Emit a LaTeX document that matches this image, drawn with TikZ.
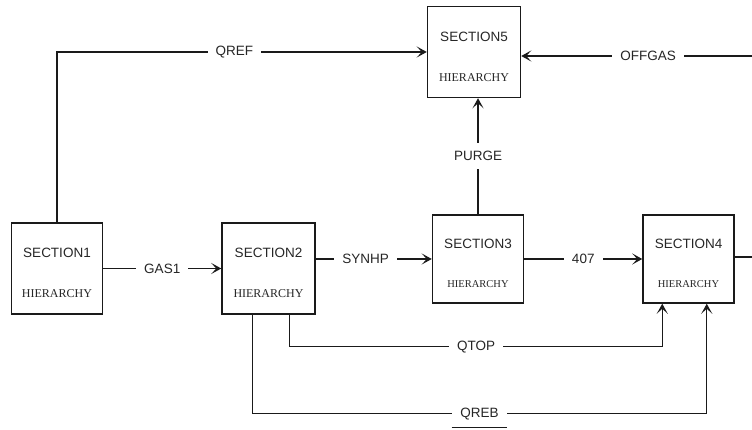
\documentclass[tikz,border=0pt]{standalone}
\usepackage{fontspec}
\setmainfont{Liberation Sans}
\newfontfamily\hierfont{Liberation Serif}
\usetikzlibrary{positioning,arrows.meta}
\definecolor{ink}{HTML}{1A1A1A}
\definecolor{labelgray}{HTML}{262626}
\tikzset{
  secbox/.style={draw=ink, line width=1.5pt, minimum width=91pt, minimum height=91pt, inner sep=0pt},
  sectitle/.style={anchor=center, yshift=-31pt, text=labelgray, font=\fontsize{13.5pt}{16pt}\selectfont},
  hier/.style={anchor=center, yshift=21pt, text=labelgray, font=\hierfont\fontsize{12pt}{14pt}\selectfont},
  section/.style={secbox, label={[sectitle]north:#1}, label={[hier]south:HIERARCHY}},
  sectionsm/.style={secbox, minimum height=88pt, label={[sectitle, yshift=1pt]north:#1},
    label={[hier, yshift=-1pt, font=\hierfont\fontsize{10.5pt}{12pt}\selectfont]south:HIERARCHY}},
  lbl/.style={fill=white, inner xsep=8pt, inner ysep=2pt, text=labelgray, font=\fontsize{13.5pt}{16pt}\selectfont},
  flow/.style={draw=ink, line width=1.3pt, -{Stealth[length=10pt,width=11pt,inset=5pt]}},
  plain/.style={draw=ink, line width=1.3pt}
}
\begin{document}
\begin{tikzpicture}
\useasboundingbox (0,0) rectangle (752pt,430pt);
% the five sections
\node[section=SECTION1] (s1) at (57pt,161.5pt) {};
\node[section=SECTION2, minimum width=93pt] (s2) [right=118pt of s1] {};
\node[sectionsm=SECTION3] (s3) [right=116pt of s2, yshift=9.5pt] {};
\node[sectionsm=SECTION4] (s4) [right=118pt of s3] {};
\node[section=SECTION5, minimum width=93pt] (s5) [above=116pt of s3, xshift=-4pt] {};
% free ends at the right edge
\coordinate (offgas) at (752pt,374pt);
\coordinate (out4) at (752pt,173pt);
% streams
\path (s1) edge[flow] node[lbl] {GAS1} (s2);
\path (s2.east |- s3.west) edge[flow] node[lbl, pos=0.43] {SYNHP} (s3.west);
\path (s3) edge[flow] node[lbl] {407} (s4);
\path (s3.north) edge[flow] node[lbl, inner xsep=2pt, inner ysep=8pt] {PURGE} (s3.north |- s5.south);
\draw[flow] (s1.north) |- node[lbl, pos=0.74] {QREF} (s5.west);
\draw[flow] (offgas) -- node[lbl, pos=0.45] {OFFGAS} (offgas -| s5.east);
\draw[plain] (s4.east |- out4) -- (out4);
\draw[flow] ([xshift=-26pt]s2.south east) -- ++(0,-32pt) -| node[lbl, pos=0.25] {QTOP} ([xshift=20pt]s4.south west);
\draw[flow] ([xshift=31pt]s2.south west) -- ++(0,-99pt) -| node[lbl, pos=0.25] (qreb) {QREB} ([xshift=-28pt]s4.south east);
\draw[ink, line width=0.6pt] ([yshift=-5pt]qreb.south west) -- ([yshift=-5pt]qreb.south east);
\end{tikzpicture}
\end{document}
